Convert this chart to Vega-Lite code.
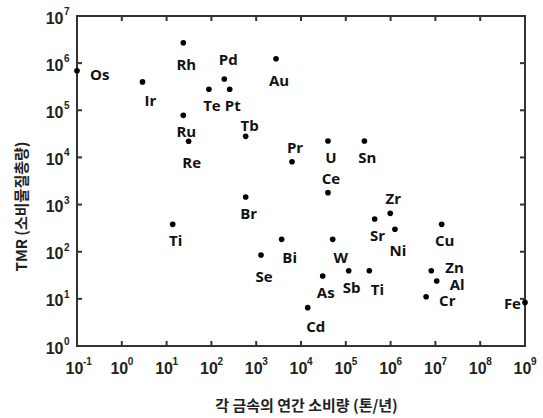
{
  "$schema": "https://vega.github.io/schema/vega-lite/v6.json",
  "width": 448,
  "height": 330,
  "autosize": {"type": "none"},
  "padding": {"left": 77, "top": 16, "right": 18, "bottom": 72},
  "config": {
    "view": {"stroke": "#333333", "strokeWidth": 2}
  },
  "datasets": {
    "elements": [
      {"name": "Os", "x": 0.1, "y": 690000, "pos": "r"},
      {"name": "Ir", "x": 2.9, "y": 400000, "pos": "br"},
      {"name": "Rh", "x": 23.6, "y": 2700000, "pos": "bb"},
      {"name": "Pd", "x": 194, "y": 460000, "pos": "aa"},
      {"name": "Te", "x": 88, "y": 280000, "pos": "b"},
      {"name": "Pt", "x": 256, "y": 280000, "pos": "b"},
      {"name": "Ru", "x": 23.6, "y": 78000, "pos": "b"},
      {"name": "Re", "x": 31, "y": 22000, "pos": "bb"},
      {"name": "Tb", "x": 582, "y": 28000, "pos": "ac"},
      {"name": "Au", "x": 2770, "y": 1240000, "pos": "bb"},
      {"name": "Pr", "x": 6300, "y": 8100, "pos": "a"},
      {"name": "U", "x": 40000, "y": 22300, "pos": "b"},
      {"name": "Sn", "x": 260000, "y": 22300, "pos": "b"},
      {"name": "Ce", "x": 40000, "y": 1790, "pos": "a"},
      {"name": "Zr", "x": 980000, "y": 652, "pos": "a"},
      {"name": "Sr", "x": 440000, "y": 494, "pos": "b"},
      {"name": "Ni", "x": 1250000, "y": 299, "pos": "bb"},
      {"name": "Cu", "x": 13800000, "y": 381, "pos": "b"},
      {"name": "Bi", "x": 3700, "y": 183, "pos": "br"},
      {"name": "W", "x": 51000, "y": 183, "pos": "br"},
      {"name": "Se", "x": 1280, "y": 85, "pos": "bb"},
      {"name": "Ti", "x": 13.7, "y": 381, "pos": "b"},
      {"name": "Br", "x": 582, "y": 1445, "pos": "b"},
      {"name": "As", "x": 30500, "y": 30.5, "pos": "b"},
      {"name": "Sb", "x": 116000, "y": 39.5, "pos": "b"},
      {"name": "Ti", "x": 335000, "y": 39.5, "pos": "br"},
      {"name": "Cd", "x": 14100, "y": 6.5, "pos": "br"},
      {"name": "Zn", "x": 8100000, "y": 39.5, "pos": "ru"},
      {"name": "Al", "x": 10700000, "y": 23.9, "pos": "r"},
      {"name": "Cr", "x": 6200000, "y": 11.1, "pos": "r"},
      {"name": "Fe", "x": 1000000000, "y": 8.4, "pos": "l"}
    ],
    "xdec": [
      {"v": 0.1, "e": "-1"}, {"v": 1, "e": "0"}, {"v": 10, "e": "1"}, {"v": 100, "e": "2"},
      {"v": 1000, "e": "3"}, {"v": 10000, "e": "4"}, {"v": 100000, "e": "5"}, {"v": 1000000, "e": "6"},
      {"v": 10000000, "e": "7"}, {"v": 100000000, "e": "8"}, {"v": 1000000000, "e": "9"}
    ],
    "ydec": [
      {"v": 1, "e": "0"}, {"v": 10, "e": "1"}, {"v": 100, "e": "2"}, {"v": 1000, "e": "3"},
      {"v": 10000, "e": "4"}, {"v": 100000, "e": "5"}, {"v": 1000000, "e": "6"}, {"v": 10000000, "e": "7"}
    ]
  },
  "data": {"name": "elements"},
  "layer": [
    {
      "mark": {"type": "point", "filled": true, "shape": "circle", "size": 32, "color": "#000000", "opacity": 1},
      "encoding": {
        "x": {
          "field": "x", "type": "quantitative",
          "scale": {"type": "log", "domain": [0.1, 1000000000], "nice": false},
          "axis": {
            "orient": "bottom",
            "values": [0.1, 1, 10, 100, 1000, 10000, 100000, 1000000, 10000000, 100000000, 1000000000],
            "domain": false, "ticks": false, "grid": false,
            "labelFont": "Liberation Sans", "labelFontWeight": "bold", "labelFontSize": 16, "labelColor": "#222222",
            "labelFlush": false, "labelOverlap": false,
            "labelPadding": 14,
            "labelBaseline": "top",
            "labelOffset": -3,
            "labelExpr": "'10'",
            "title": "각 금속의 연간 소비량 (톤/년)",
            "titleFont": "Noto Sans CJK KR", "titleFontWeight": "bold", "titleFontSize": 15, "titleColor": "#222222",
            "titleX": 229,
            "titleY": 59,
            "titleBaseline": "middle"
          }
        },
        "y": {
          "field": "y", "type": "quantitative",
          "scale": {"type": "log", "domain": [1, 10000000], "nice": false},
          "axis": {
            "orient": "left",
            "values": [1, 10, 100, 1000, 10000, 100000, 1000000, 10000000],
            "domain": false, "ticks": false, "grid": false,
            "labelFont": "Liberation Sans", "labelFontWeight": "bold", "labelFontSize": 16, "labelColor": "#222222",
            "labelFlush": false, "labelOverlap": false,
            "labelPadding": 14,
            "labelOffset": 2,
            "labelExpr": "'10'",
            "title": "TMR (소비물질총량)",
            "titleFont": "Noto Sans CJK KR", "titleFontWeight": "bold", "titleFontSize": 15, "titleColor": "#222222",
            "titleX": -56,
            "titleY": 190,
            "titleBaseline": "middle",
            "titleAlign": "center"
          }
        }
      }
    },
    {
      "data": {"name": "xdec"},
      "mark": {"type": "tick", "orient": "vertical", "size": 5, "thickness": 2, "color": "#333333", "opacity": 1, "yOffset": -2.5},
      "encoding": {"x": {"field": "v", "type": "quantitative"}, "y": {"datum": 1}}
    },
    {
      "data": {"name": "xdec"},
      "mark": {"type": "tick", "orient": "vertical", "size": 5, "thickness": 2, "color": "#333333", "opacity": 1, "yOffset": 2.5},
      "encoding": {"x": {"field": "v", "type": "quantitative"}, "y": {"datum": 10000000}}
    },
    {
      "data": {"name": "ydec"},
      "mark": {"type": "tick", "orient": "horizontal", "size": 5, "thickness": 2, "color": "#333333", "opacity": 1, "xOffset": 2.5},
      "encoding": {"y": {"field": "v", "type": "quantitative"}, "x": {"datum": 0.1}}
    },
    {
      "data": {"name": "ydec"},
      "mark": {"type": "tick", "orient": "horizontal", "size": 5, "thickness": 2, "color": "#333333", "opacity": 1, "xOffset": -2.5},
      "encoding": {"y": {"field": "v", "type": "quantitative"}, "x": {"datum": 1000000000}}
    },
    {
      "data": {"name": "xdec"},
      "mark": {"type": "text", "dx": 6, "dy": 16, "align": "left", "baseline": "middle", "font": "Liberation Sans", "fontWeight": "bold", "fontSize": 10, "color": "#222222"},
      "encoding": {"x": {"field": "v", "type": "quantitative"}, "y": {"datum": 1}, "text": {"field": "e"}}
    },
    {
      "data": {"name": "ydec"},
      "mark": {"type": "text", "dx": -13, "dy": -4, "align": "left", "baseline": "middle", "font": "Liberation Sans", "fontWeight": "bold", "fontSize": 10, "color": "#222222"},
      "encoding": {"y": {"field": "v", "type": "quantitative"}, "x": {"datum": 0.1}, "text": {"field": "e"}}
    },
    {
      "transform": [{"filter": "datum.pos == 'b'"}],
      "mark": {"type": "text", "dx": 3, "dy": 17, "align": "center", "baseline": "middle", "font": "Open Sans", "fontWeight": "bold", "fontSize": 15, "color": "#111111"},
      "encoding": {"x": {"field": "x", "type": "quantitative"}, "y": {"field": "y", "type": "quantitative"}, "text": {"field": "name"}}
    },
    {
      "transform": [{"filter": "datum.pos == 'bb'"}],
      "mark": {"type": "text", "dx": 3, "dy": 22, "align": "center", "baseline": "middle", "font": "Open Sans", "fontWeight": "bold", "fontSize": 15, "color": "#111111"},
      "encoding": {"x": {"field": "x", "type": "quantitative"}, "y": {"field": "y", "type": "quantitative"}, "text": {"field": "name"}}
    },
    {
      "transform": [{"filter": "datum.pos == 'br'"}],
      "mark": {"type": "text", "dx": 8, "dy": 19, "align": "center", "baseline": "middle", "font": "Open Sans", "fontWeight": "bold", "fontSize": 15, "color": "#111111"},
      "encoding": {"x": {"field": "x", "type": "quantitative"}, "y": {"field": "y", "type": "quantitative"}, "text": {"field": "name"}}
    },
    {
      "transform": [{"filter": "datum.pos == 'a'"}],
      "mark": {"type": "text", "dx": 3, "dy": -14, "align": "center", "baseline": "middle", "font": "Open Sans", "fontWeight": "bold", "fontSize": 15, "color": "#111111"},
      "encoding": {"x": {"field": "x", "type": "quantitative"}, "y": {"field": "y", "type": "quantitative"}, "text": {"field": "name"}}
    },
    {
      "transform": [{"filter": "datum.pos == 'aa'"}],
      "mark": {"type": "text", "dx": 4, "dy": -19, "align": "center", "baseline": "middle", "font": "Open Sans", "fontWeight": "bold", "fontSize": 15, "color": "#111111"},
      "encoding": {"x": {"field": "x", "type": "quantitative"}, "y": {"field": "y", "type": "quantitative"}, "text": {"field": "name"}}
    },
    {
      "transform": [{"filter": "datum.pos == 'ac'"}],
      "mark": {"type": "text", "dx": 4, "dy": -10, "align": "center", "baseline": "middle", "font": "Open Sans", "fontWeight": "bold", "fontSize": 15, "color": "#111111"},
      "encoding": {"x": {"field": "x", "type": "quantitative"}, "y": {"field": "y", "type": "quantitative"}, "text": {"field": "name"}}
    },
    {
      "transform": [{"filter": "datum.pos == 'r'"}],
      "mark": {"type": "text", "dx": 13, "dy": 4, "align": "left", "baseline": "middle", "font": "Open Sans", "fontWeight": "bold", "fontSize": 15, "color": "#111111"},
      "encoding": {"x": {"field": "x", "type": "quantitative"}, "y": {"field": "y", "type": "quantitative"}, "text": {"field": "name"}}
    },
    {
      "transform": [{"filter": "datum.pos == 'ru'"}],
      "mark": {"type": "text", "dx": 14, "dy": -3, "align": "left", "baseline": "middle", "font": "Open Sans", "fontWeight": "bold", "fontSize": 15, "color": "#111111"},
      "encoding": {"x": {"field": "x", "type": "quantitative"}, "y": {"field": "y", "type": "quantitative"}, "text": {"field": "name"}}
    },
    {
      "transform": [{"filter": "datum.pos == 'l'"}],
      "mark": {"type": "text", "dx": -4, "dy": 2, "align": "right", "baseline": "middle", "font": "Open Sans", "fontWeight": "bold", "fontSize": 15, "color": "#111111"},
      "encoding": {"x": {"field": "x", "type": "quantitative"}, "y": {"field": "y", "type": "quantitative"}, "text": {"field": "name"}}
    }
  ]
}
